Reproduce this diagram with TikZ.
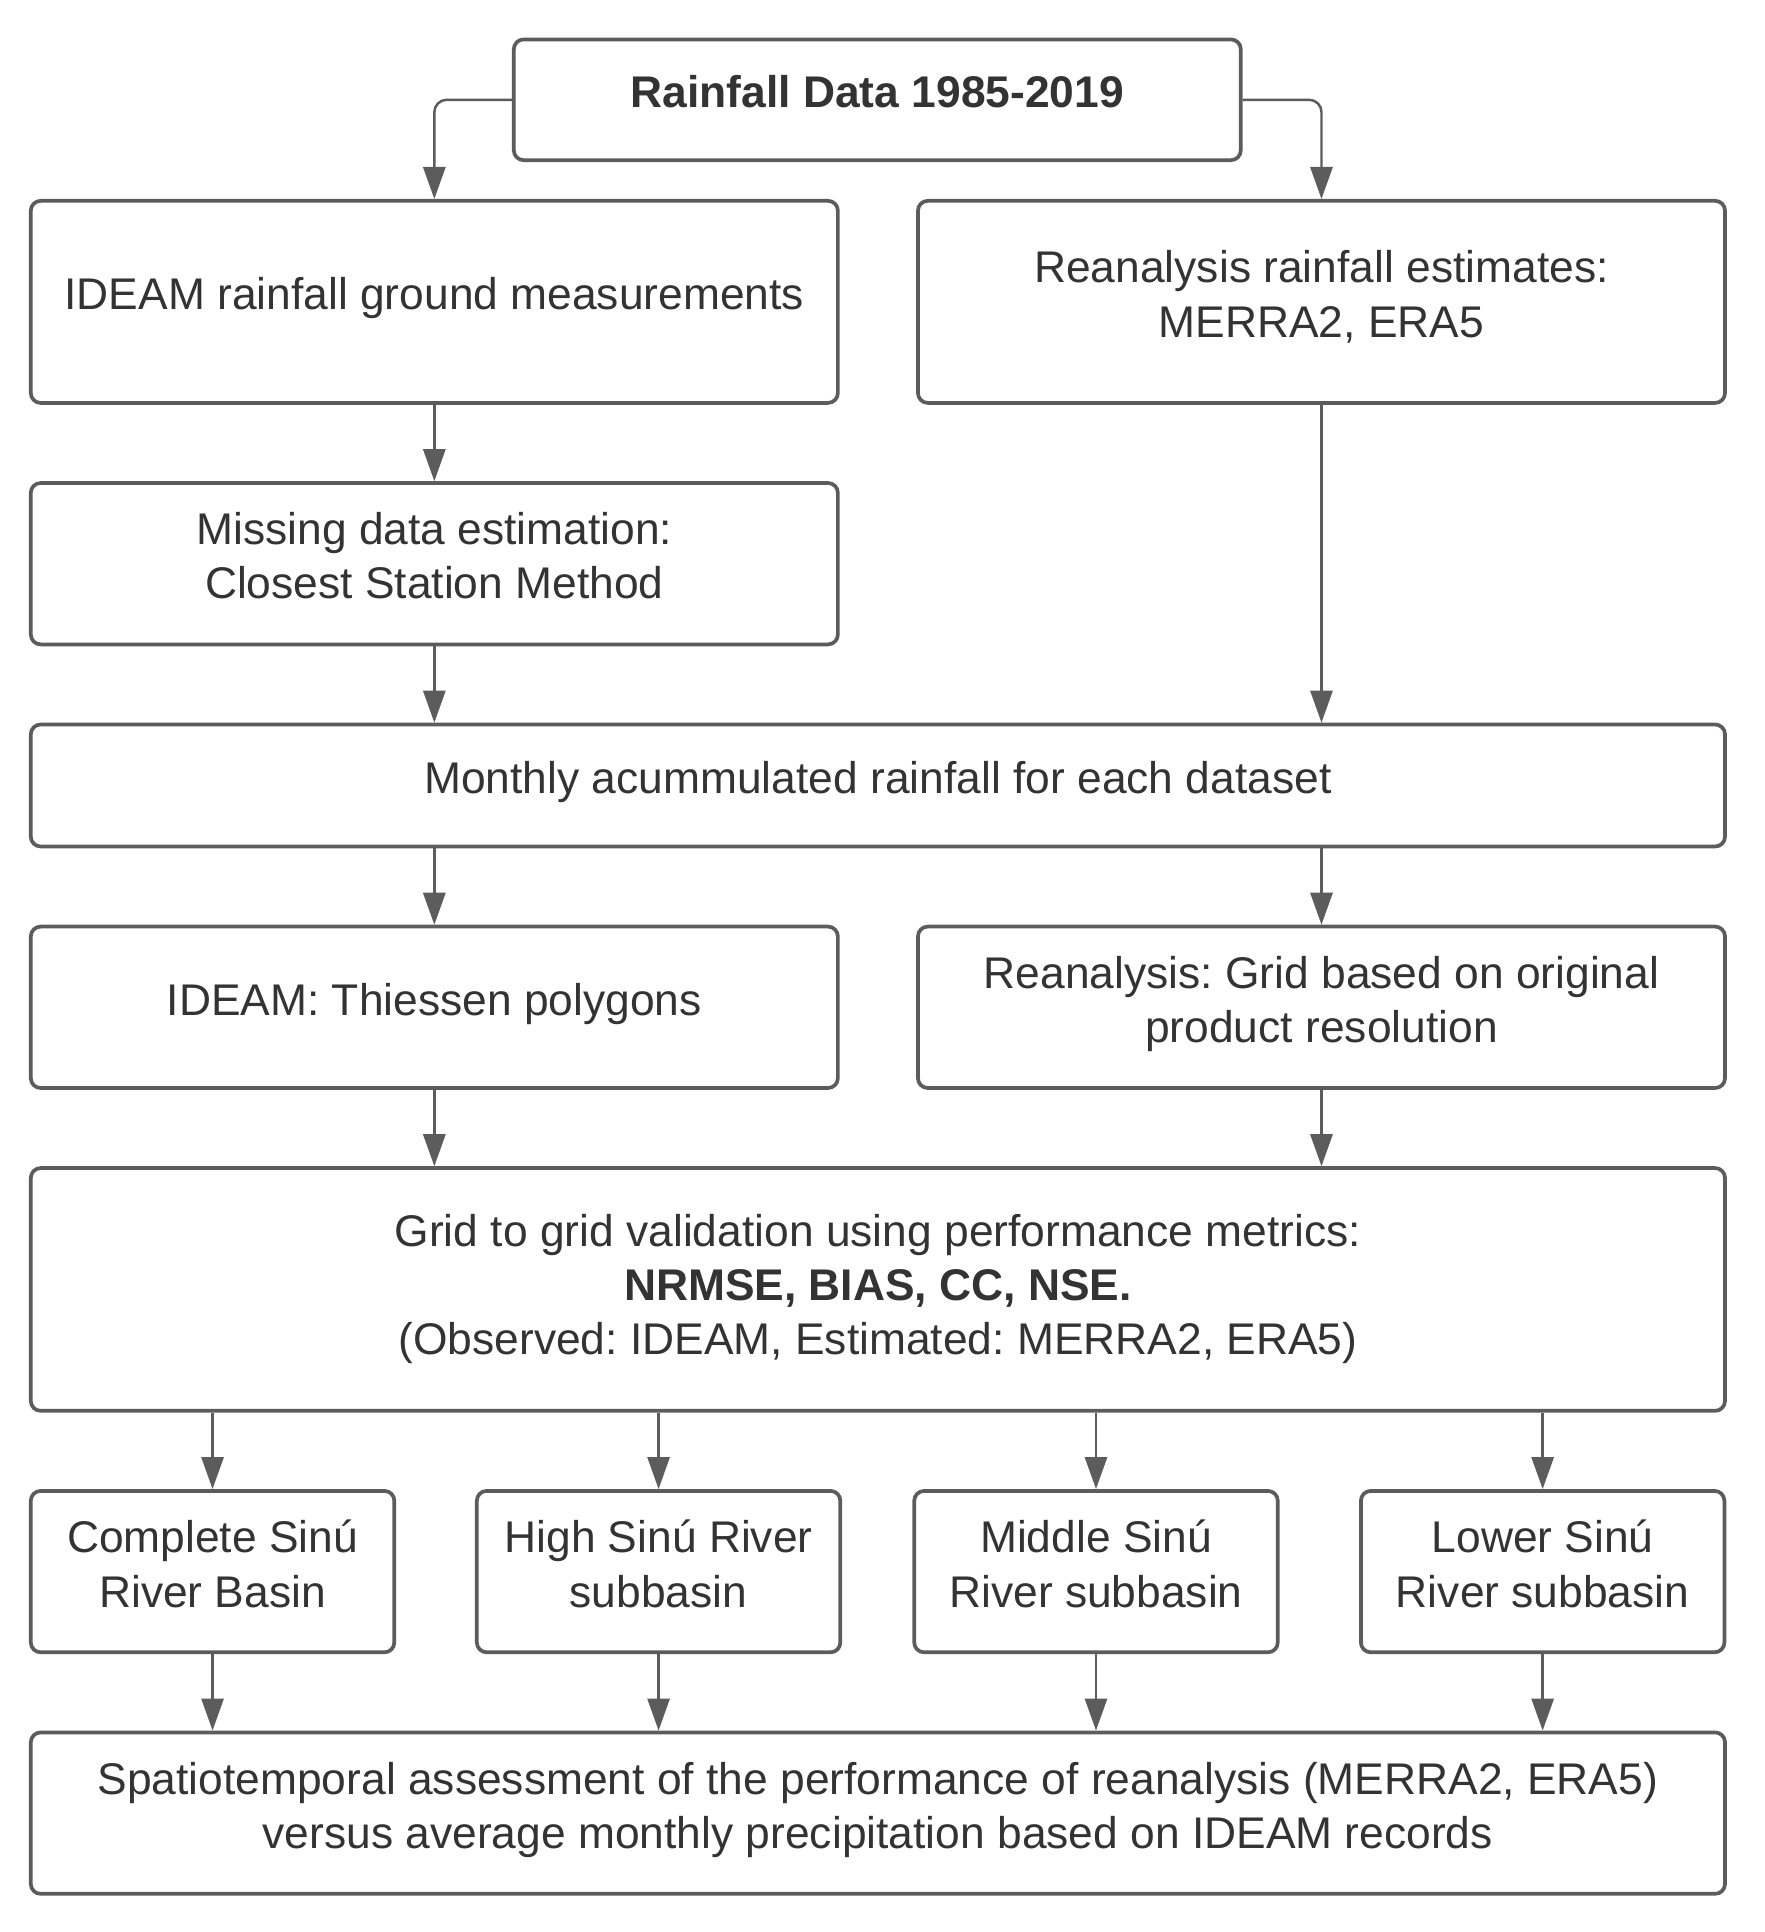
\documentclass[tikz,border=0pt]{standalone}
\usepackage{fontspec}
\setmainfont{Liberation Sans}
\usepackage{xcolor}
\usepackage{tikz}
\usetikzlibrary{calc,arrows.meta}
\frenchspacing
\definecolor{edge}{HTML}{5C5C5C}
\definecolor{ink}{HTML}{333333}
\tikzset{
  box/.style={draw=edge, line width=1.5pt, rounded corners=4pt, align=center,
    text=ink, font=\fontsize{18}{22}\selectfont, inner sep=2pt, text depth=6.5pt},
  arr/.style={draw=edge, line width=1pt, -{Triangle[length=13pt,width=9pt]}},
  wide/.style={box, minimum width=687.5pt},
  half/.style={box, minimum width=327.5pt},
  quarter/.style={box, minimum width=147.5pt, minimum height=65.5pt},
}

\begin{document}
\begin{tikzpicture}[x=0.5pt,y=-0.5pt]
  \useasboundingbox (0,0) rectangle (1432,1568);

  % source
  \node[box, minimum width=295pt, minimum height=49pt] (data) at (712,81)
    {\textbf{Rainfall Data 1985-2019}};

  % two data branches
  \node[half, minimum height=82pt] (ideam) at (352.5,245)
    {IDEAM rainfall ground measurements};
  \node[half, minimum height=82pt] (rean) at (1072.5,245)
    {Reanalysis rainfall estimates:\\MERRA2, ERA5};
  \node[half, minimum height=65.5pt] (fill) at (352.5,457.5)
    {Missing data estimation:\\Closest Station Method};

  \node[wide, minimum height=49.5pt] (month) at (712.5,637.5)
    {Monthly acummulated rainfall for each dataset};

  \node[half, minimum height=65.5pt] (thiessen) at (352.5,817.5)
    {IDEAM: Thiessen polygons};
  \node[half, minimum height=65.5pt] (grid) at (1072.5,817.5)
    {Reanalysis: Grid based on original\\product resolution};

  \node[wide, minimum height=98.5pt, text depth=4pt] (valid) at (712.5,1046.5)
    {Grid to grid validation using performance metrics:\\
     \textbf{NRMSE, BIAS, CC, NSE.}\\
     (Observed: IDEAM, Estimated: MERRA2, ERA5)};

  % basin and subbasins
  \node[quarter] (b1) at (172.5,1275.5) {Complete Sinú\\River Basin};
  \node[quarter] (b2) at (534.5,1275.5) {High Sinú River\\subbasin};
  \node[quarter] (b3) at (889.5,1275.5) {Middle Sinú\\River subbasin};
  \node[quarter] (b4) at (1252,1275.5) {Lower Sinú\\River subbasin};

  \node[wide, minimum height=65.5pt] (assess) at (712.5,1471.5)
    {Spatiotemporal assessment of the performance of reanalysis (MERRA2, ERA5)\\
     versus average monthly precipitation based on IDEAM records};

  % connectors
  \draw[arr, rounded corners=5pt] (data.west) -| (ideam.north);
  \draw[arr, rounded corners=5pt] (data.east) -| (rean.north);
  \draw[arr] (ideam) -- (fill);
  \draw[arr] (fill.south) -- (fill.south |- month.north);
  \draw[arr] (rean.south) -- (rean.south |- month.north);
  \draw[arr] (thiessen.north |- month.south) -- (thiessen.north);
  \draw[arr] (grid.north |- month.south) -- (grid.north);
  \draw[arr] (thiessen.south) -- (thiessen.south |- valid.north);
  \draw[arr] (grid.south) -- (grid.south |- valid.north);
  \foreach \b in {b1,b2,b3,b4} {
    \draw[arr] (\b.north |- valid.south) -- (\b.north);
    \draw[arr] (\b.south) -- (\b.south |- assess.north);
  }
\end{tikzpicture}
\end{document}
